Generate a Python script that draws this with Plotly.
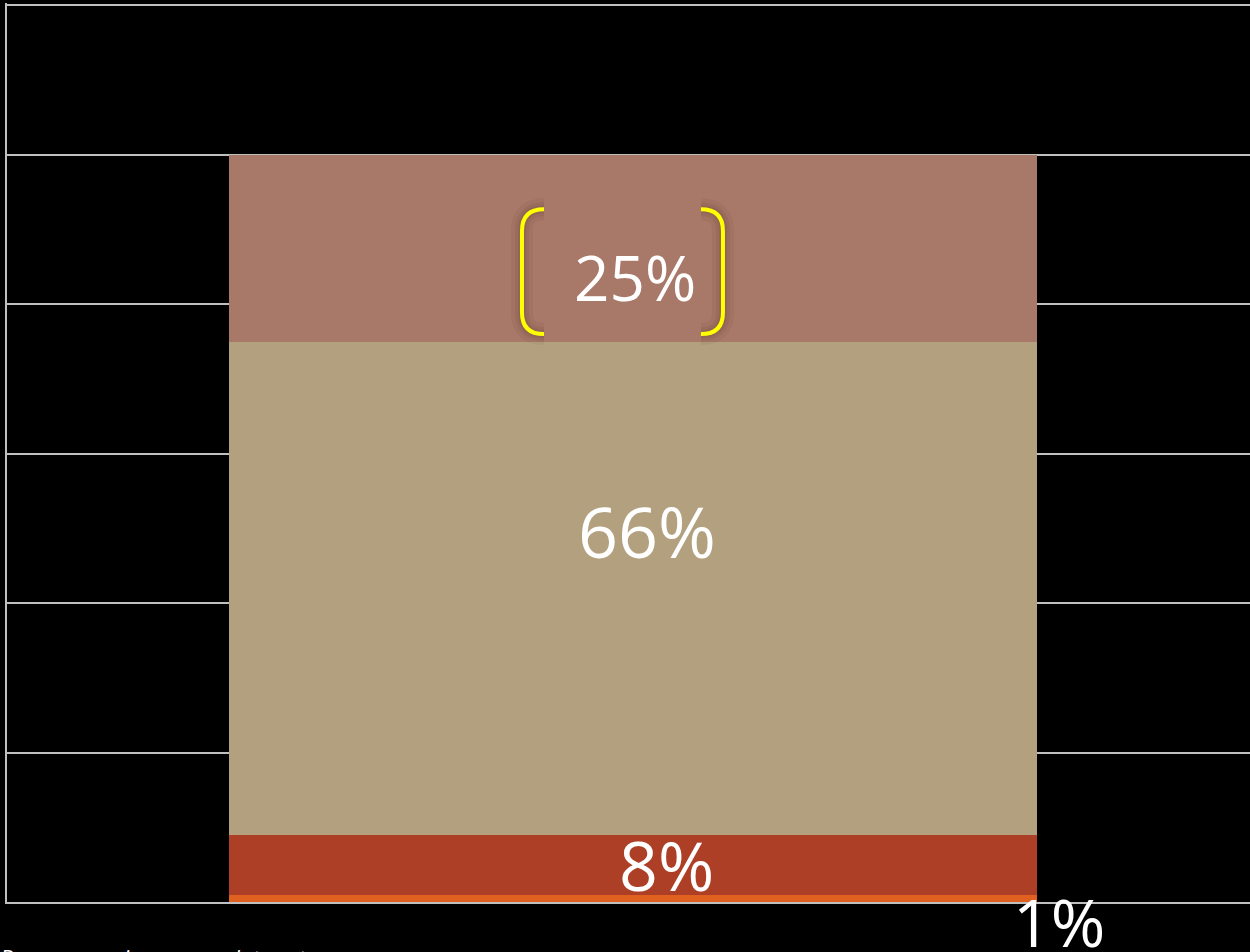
import plotly.graph_objects as go

# Stacked shares (bottom to top), in percent
segments = ["Segment A", "Segment B", "Segment C", "Segment D"]
shares = [1, 8, 66, 25]
colors = ["#E0611F", "#AE3F27", "#B3A07E", "#A87868"]
category = [0]

# Label anchor positions (x in category units, y in percent units, extra pixel shift)
label_x = [0.343, 0.027, 0.011, 0.002]
label_y = [0, 5.0, 49.6, 83.6]
label_shift = [-19, 0, 0, 0]
label_size = [66, 68, 70, 62]

fig = go.Figure()
for name, val, col in zip(segments, shares, colors):
    fig.add_trace(go.Bar(
        x=category, y=[val], name=name, marker=dict(color=col, line=dict(width=0)),
        width=0.65, showlegend=False, hoverinfo="skip",
    ))

for val, lx, ly, sh, sz in zip(shares, label_x, label_y, label_shift, label_size):
    fig.add_annotation(
        x=lx, y=ly, xref="x", yref="y", yshift=sh, text=f"{val}%", showarrow=False,
        font=dict(family="Open Sans", size=sz, color="white"),
    )

# Yellow brackets around the top label, with a soft dark halo
bx_l, bx_r = -0.0893, 0.0724
by_t, by_b = 92.7, 76.0
rx, ry = 0.0177, 2.9


def bracket(x_edge, inward):
    return (f"M {x_edge + inward * rx},{by_t} Q {x_edge},{by_t} {x_edge},{by_t - ry} "
            f"L {x_edge},{by_b + ry} Q {x_edge},{by_b} {x_edge + inward * rx},{by_b}")


for p in (bracket(bx_l, 1), bracket(bx_r, -1)):
    for w, a in ((22, 0.05), (14, 0.07), (8, 0.09)):
        fig.add_shape(type="path", path=p, xref="x", yref="y",
                      line=dict(color=f"rgba(60,30,20,{a})", width=w))
    fig.add_shape(type="path", path=p, xref="x", yref="y",
                  line=dict(color="#FFFF00", width=4))

fig.add_annotation(
    x=0, y=0, xref="paper", yref="paper", xanchor="left", yanchor="top",
    yshift=-38, xshift=-9,
    text="<i>Base: averaging across data set</i>", showarrow=False,
    font=dict(family="Open Sans", size=22, color="white"),
)

fig.update_layout(
    width=1250, height=952,
    margin=dict(l=7, r=0, t=3, b=50),
    paper_bgcolor="black", plot_bgcolor="black",
    barmode="stack", bargap=0,
    xaxis=dict(range=[-0.5036, 0.4964], showgrid=False, zeroline=False,
               showticklabels=False, showline=True, linecolor="#BFBFBF",
               linewidth=2, fixedrange=True),
    yaxis=dict(range=[0, 120.3], tickvals=[0, 20, 40, 60, 80, 100, 120],
               showgrid=True, gridcolor="#BFBFBF",
               gridwidth=2, zeroline=False, showticklabels=False,
               showline=True, linecolor="#BFBFBF", linewidth=2, mirror=False,
               fixedrange=True),
)

fig.write_html("out.html")
